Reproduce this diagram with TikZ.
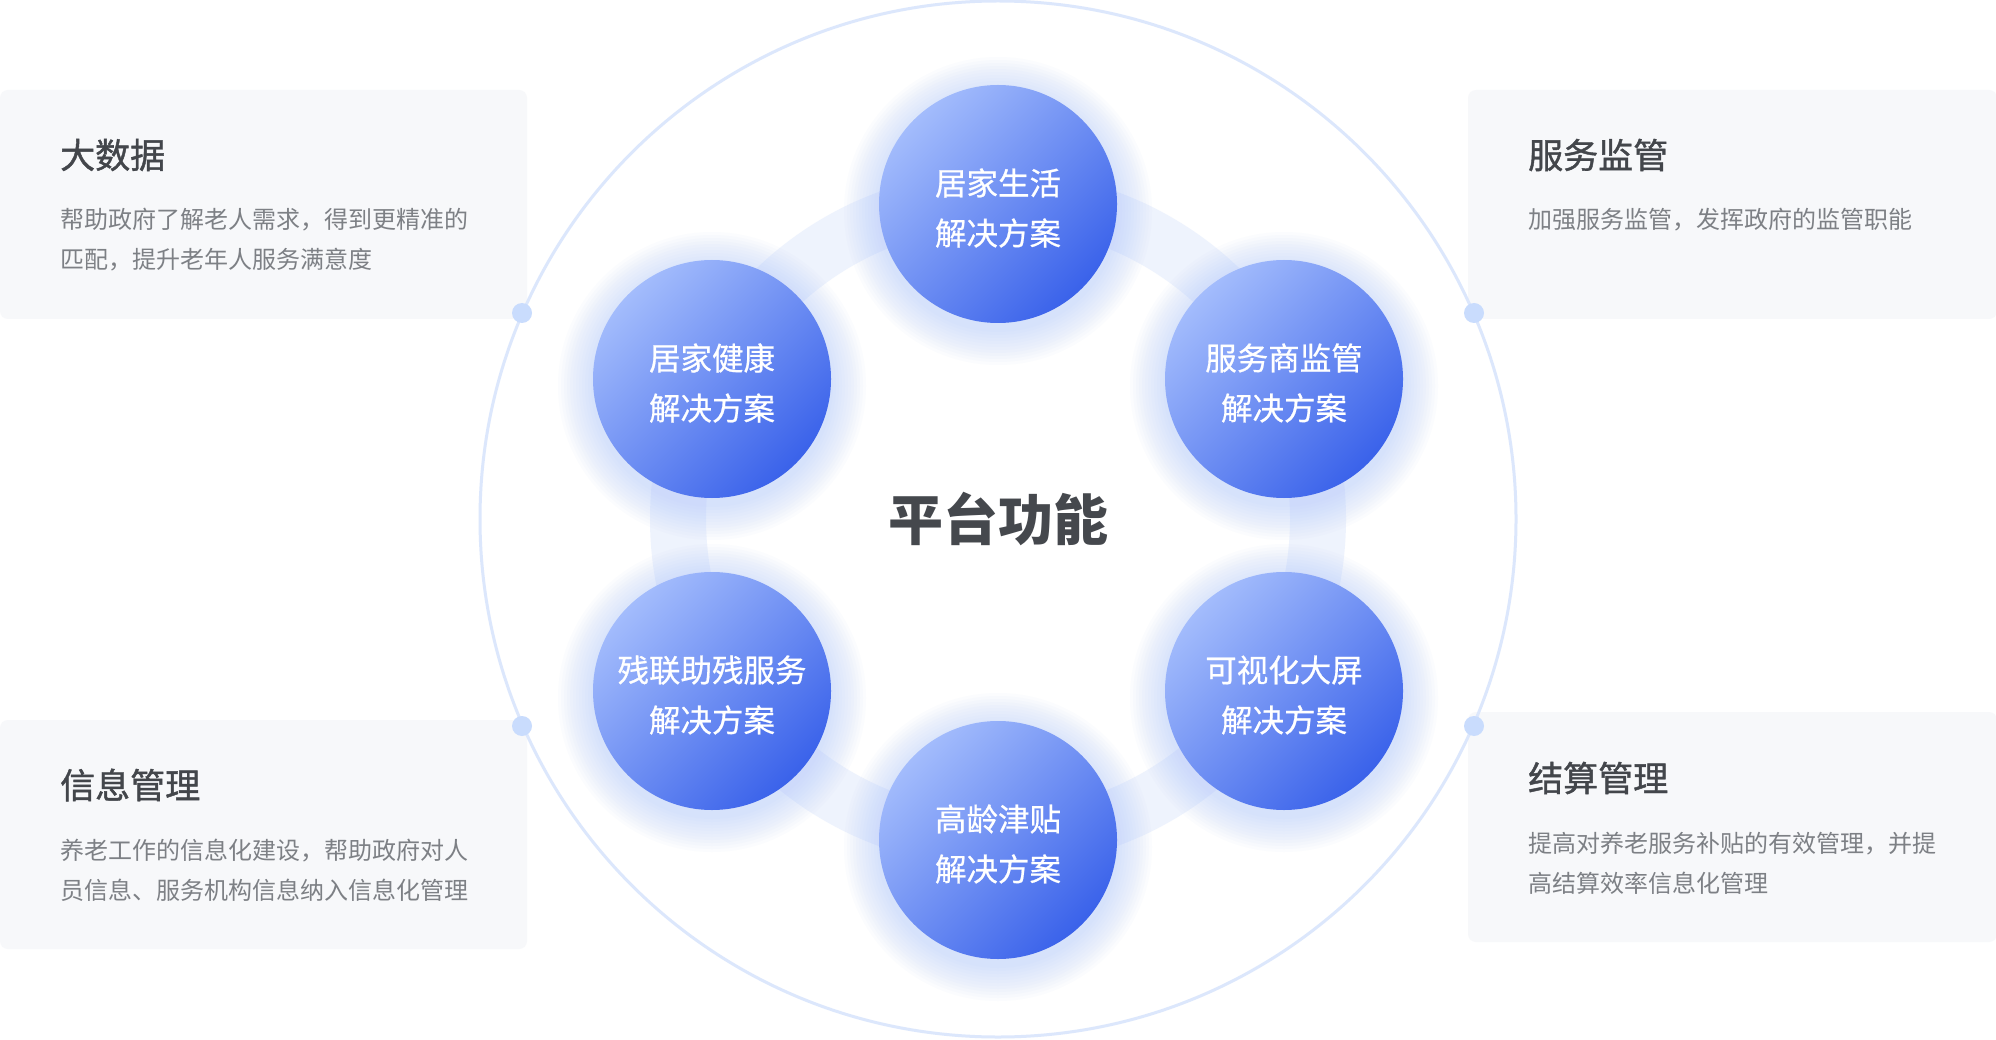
\documentclass[tikz,border=0pt]{standalone}
\usepackage{fontspec}
\newfontfamily\cjk{Noto Sans CJK SC}
\newfontfamily\cjkmed{Noto Sans CJK SC}[FakeBold=1.2]
\newfontfamily\cjklite{Noto Sans CJK SC}[FakeBold=0.6]
\definecolor{boxbg}{HTML}{F7F8FA}
\definecolor{titlec}{HTML}{43464B}
\definecolor{descc}{HTML}{7D8085}
\definecolor{centerc}{HTML}{45484D}
\definecolor{outerc}{HTML}{DCE7FC}
\definecolor{dotc}{HTML}{C9DCFD}
\definecolor{ringc}{HTML}{E3ECFD}
\definecolor{glowc}{HTML}{A9C3FB}
\definecolor{sollight}{HTML}{A3BCFC}
\definecolor{soldark}{HTML}{3A62EA}
\tikzset{
  infobox/.style={fill=boxbg, rounded corners=8pt, inner sep=0pt},
  boxtitle/.style={anchor=west, inner sep=0pt, text=titlec, font=\cjkmed\fontsize{35}{40}\selectfont},
  boxdesc/.style={anchor=west, inner sep=0pt, text=descc, align=left, font=\cjk\fontsize{24}{40}\selectfont},
  solution/.style={circle, minimum size=238pt, inner sep=0pt, top color=sollight, bottom color=soldark,
     shading angle=45},
  soltext/.style={yshift=-4pt, inner sep=0pt, text=white, align=center, font=\cjklite\fontsize{31.5}{50}\selectfont},
  dotmark/.style={circle, fill=dotc, minimum size=20pt, inner sep=0pt},
}
\begin{document}
\begin{tikzpicture}[x=1pt,y=-1pt]
\useasboundingbox[fill=white] (0,0) rectangle (1996,1040);
\coordinate (ctr) at (998,519);
% info boxes
\node[infobox, minimum width=527pt, minimum height=229pt] (b1) at (263.5,204.5) {};
\node[infobox, minimum width=527pt, minimum height=229pt] (b3) at (263.5,834.5) {};
\node[infobox, minimum width=529pt, minimum height=229pt] (b2) at (1732.5,204.5) {};
\node[infobox, minimum width=529pt, minimum height=230pt] (b4) at (1732.5,827) {};
% outer circle
\draw[outerc, line width=3pt] (ctr) circle (518pt);
% ring band
\draw[ringc, line width=56pt, opacity=0.6] (ctr) circle (320pt);
% dots
\node[dotmark] (d1) at (522,313) {};
\node[dotmark] (d3) at (522,726) {};
\node[dotmark] (d2) at (1474,313) {};
\node[dotmark] (d4) at (1474,726) {};
% glows
\foreach \px/\py in {998/204,712/379,1284/379,712/691,1284/691,998/840}{
  \foreach \r in {154,151,...,120}{
    \fill[glowc, opacity=0.045] (\px,\py+7) circle (\r pt);
  }
}
% solution circles
\node[solution] (s1) at (998,204) {};
\node[solution] (s2) at (712,379) {};
\node[solution] (s3) at (1284,379) {};
\node[solution] (s4) at (712,691) {};
\node[solution] (s5) at (1284,691) {};
\node[solution] (s6) at (998,840) {};
\node[soltext] (s1t) at (s1) {居家生活\\解决方案};
\node[soltext] (s2t) at (s2) {居家健康\\解决方案};
\node[soltext] (s3t) at (s3) {服务商监管\\解决方案};
\node[soltext] (s4t) at (s4) {残联助残服务\\解决方案};
\node[soltext] (s5t) at (s5) {可视化大屏\\解决方案};
\node[soltext] (s6t) at (s6) {高龄津贴\\解决方案};
% center
\node[text=centerc, font=\cjk\fontsize{55}{60}\selectfont\bfseries] (title) at (ctr) {平台功能};
% box texts
\node[boxtitle] (t1) at (60,155) {大数据};
\node[boxdesc] (x1) at (60,240) {帮助政府了解老人需求，得到更精准的\\匹配，提升老年人服务满意度};
\node[boxtitle] (t2) at (1528,155) {服务监管};
\node[boxdesc] (x2) at (1528,220) {加强服务监管，发挥政府的监管职能};
\node[boxtitle] (t3) at (60,785) {信息管理};
\node[boxdesc] (x3) at (60,870) {养老工作的信息化建设，帮助政府对人\\员信息、服务机构信息纳入信息化管理};
\node[boxtitle] (t4) at (1528,778) {结算管理};
\node[boxdesc] (x4) at (1528,863) {提高对养老服务补贴的有效管理，并提\\高结算效率信息化管理};
\end{tikzpicture}
\end{document}
